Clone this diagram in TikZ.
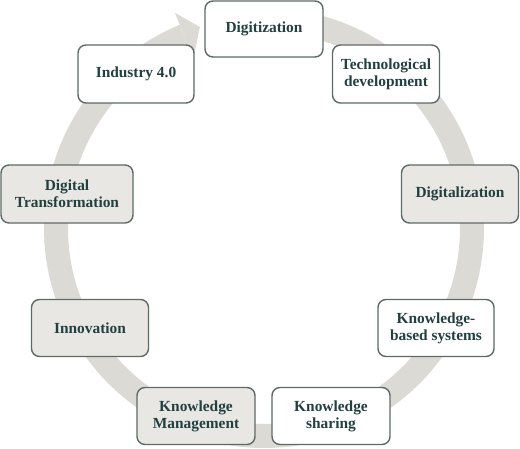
\documentclass[tikz,border=0pt]{standalone}
\usepackage{fontspec}
\setmainfont{Liberation Serif}
\usetikzlibrary{positioning,calc}
\definecolor{bandgray}{HTML}{DCDAD5}
\definecolor{boxgray}{HTML}{E9E7E4}
\definecolor{edgegray}{HTML}{5E6A69}
\definecolor{textteal}{HTML}{21403F}

\begin{document}
\begin{tikzpicture}[x=1pt,y=1pt,
stage/.style={draw=edgegray,line width=1.4pt,fill=white,rounded corners=8pt,
  align=center,text=textteal,font=\bfseries\fontsize{15.4}{16.8}\selectfont,inner sep=0pt},
shaded/.style={stage,fill=boxgray}]
\useasboundingbox (0,0) rectangle (520,449);
\coordinate (hub) at (264,221);
% circular arrow behind the boxes
\draw[bandgray,line width=24pt] (hub) ++(88:208) arc[start angle=88,end angle=-247.5,radius=208];
\fill[bandgray] ($(hub)+(112.5:233)$) -- ($(hub)+(107.7:211)$) -- ($(hub)+(112.5:184)$) -- cycle;
\node[stage,minimum width=118pt,minimum height=56pt] (digitization) at (264,420) {Digitization};
\node[stage,minimum width=107pt,minimum height=58pt] (techdev) at (386,375) {Technological\\development};
\node[shaded,minimum width=117pt,minimum height=58pt] (digitalization) at (460,255) {Digitalization};
\node[stage,minimum width=116pt,minimum height=57pt] (kbs) at (436,121) {Knowledge-\\based systems};
\node[stage,minimum width=118pt,minimum height=57pt] (sharing) at (331,33) {Knowledge\\sharing};
\node[shaded,minimum width=118pt,minimum height=57pt] (kmanage) at (196,33) {Knowledge\\Management};
\node[shaded,minimum width=117pt,minimum height=57pt] (innovation) at (90,121) {Innovation};
\node[shaded,minimum width=132pt,minimum height=58pt] (digtrans) at (67,255) {Digital\\Transformation};
\node[stage,minimum width=116pt,minimum height=58pt] (industry) at (136,375) {Industry 4.0};
\end{tikzpicture}
\end{document}
